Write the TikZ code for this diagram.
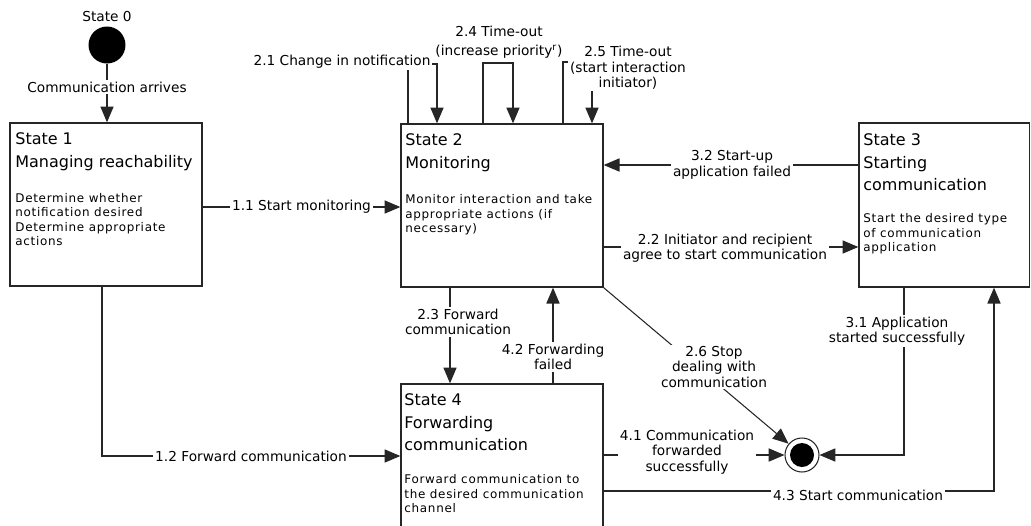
\documentclass[tikz,border=0pt]{standalone}
\usepackage{fontspec}
\setmainfont{DejaVu Sans}
\usetikzlibrary{arrows.meta}

\newcommand\lblfont{\fontsize{7.8}{8.8}\selectfont}
\newcommand\ttlfont{\fontsize{9.1}{12.7}\selectfont}
\newcommand\bodyfont{\fontsize{6.8}{8.2}\selectfont\addfontfeatures{LetterSpace=6}}

\tikzset{
  state/.style={draw=black!85, line width=0.8pt, rectangle, inner sep=0pt},
  conn/.style={draw=black!85, line width=0.6pt},
  arr/.style={conn, -{Triangle[length=9pt,width=7.5pt]}},
  lbl/.style={font=\lblfont, align=center, inner sep=1pt},
  lblw/.style={lbl, fill=white},
  ttl/.style={font=\ttlfont, align=left, anchor=north west, inner sep=0pt},
  body/.style={font=\bodyfont, align=left, anchor=north west, inner sep=0pt},
}

\begin{document}
\begin{tikzpicture}[x=0.02cm, y=-0.02cm]
\clip (0,0) rectangle (1031,525);
\fill[white] (0,0) rectangle (1031,525);

% initial and final pseudo-states
\node[circle, fill=black, minimum size=0.74cm, inner sep=0pt] (start) at (107,45) {};
\node[lbl, anchor=south] (startlbl) at (107,24) {State 0};
\node[circle, draw=black!85, line width=0.6pt, minimum size=0.68cm, inner sep=0pt] (end) at (802,455) {};
\node[circle, fill=black, minimum size=0.48cm, inner sep=0pt] (endcore) at (end) {};

% state boxes
\node[state, minimum width=3.84cm, minimum height=3.26cm] (s1) at (106,204.5) {};
\node[state, minimum width=4.04cm, minimum height=3.26cm] (s2) at (502,205.5) {};
\node[state, minimum width=3.41cm, minimum height=3.28cm] (s3) at (944.25,205) {};
\node[state, minimum width=4.04cm, minimum height=3.02cm] (s4) at (502,459.5) {};

% state texts
\node[ttl] (s1t) at (15,132.5) {State 1\\Managing reachability};
\node[body] (s1b) at (15,193) {Determine whether\\notification desired\\Determine appropriate\\actions};
\node[ttl] (s2t) at (405,133.5) {State 2\\Monitoring};
\node[body] (s2b) at (405,194.5) {Monitor interaction and take\\appropriate actions (if\\necessary)};
\node[ttl] (s3t) at (863,133.5) {State 3\\Starting\\communication};
\node[body] (s3b) at (863,213.5) {Start the desired type\\of communication\\application};
\node[ttl] (s4t) at (404,393.5) {State 4\\Forwarding\\communication};
\node[body] (s4b) at (404,474.5) {Forward communication to\\the desired communication\\channel};

% entry
\draw[arr] (start.south) -- (start.south |- s1.north);
\node[lblw] (l0) at (107,87) {Communication arrives};

% from state 1
\draw[arr] (s1.east |- 0,207) -- (s2.west |- 0,207);
\node[lblw] (l11) at (301.5,207) {1.1 Start monitoring};
\draw[arr] (s1.south -| 102,0) -- (102,456) -- (s4.west |- 0,456);
\node[lblw] (l12) at (251,456) {1.2 Forward communication};

% self transitions of state 2
\draw[arr] (s2.north -| 408,0) -- (408,64) -- (437,64) -- (s2.north -| 437,0);
\node[lblw] (l21) at (342,62) {2.1 Change in notification};
\draw[arr] (s2.north -| 483,0) -- (483,63) -- (513,63) -- (s2.north -| 513,0);
\draw[arr] (s2.north -| 563,0) -- (563,62) -- (592,62) -- (s2.north -| 592,0);
\node[lblw] (l25) at (628,68) {2.5 Time-out\\(start interaction\\initiator)};
\node[lbl] (l24) at (499,42) {2.4 Time-out\\[2pt](increase priority\textsuperscript{r})};

% between states 2 and 3
\draw[arr] (s3.west |- 0,165) -- (s2.east |- 0,165);
\node[lblw] (l32) at (732,165) {3.2 Start-up\\application failed};
\draw[arr] (s2.east |- 0,247) -- (s3.west |- 0,247);
\node[lblw] (l22) at (725,248) {2.2 Initiator and recipient\\agree to start communication};

% between states 2 and 4
\draw[arr] (s2.south -| 450,0) -- (s4.north -| 450,0);
\node[lblw] (l23) at (458,322) {2.3 Forward\\communication};
\draw[arr] (s4.north -| 553,0) -- (s2.south -| 553,0);
\node[lblw] (l42) at (553,357) {4.2 Forwarding\\failed};

% towards the final state
\draw[arr] (s2.south east) -- (end);
\node[lblw] (l26) at (714,367) {2.6 Stop\\dealing with\\communication};
\draw[arr] (s4.east |- 0,455) -- (end.west);
\node[lblw] (l41) at (687,452) {4.1 Communication\\forwarded\\successfully};
\draw[arr] (s3.south -| 904,0) -- (904,455) -- (end.east);
\node[lblw] (l31) at (897,331) {3.1 Application\\started successfully};

% from state 4 to state 3
\draw[arr] (s4.east |- 0,491) -- (994,491) -- (s3.south -| 994,0);
\node[lblw] (l43) at (858,495) {4.3 Start communication};
\end{tikzpicture}
\end{document}
